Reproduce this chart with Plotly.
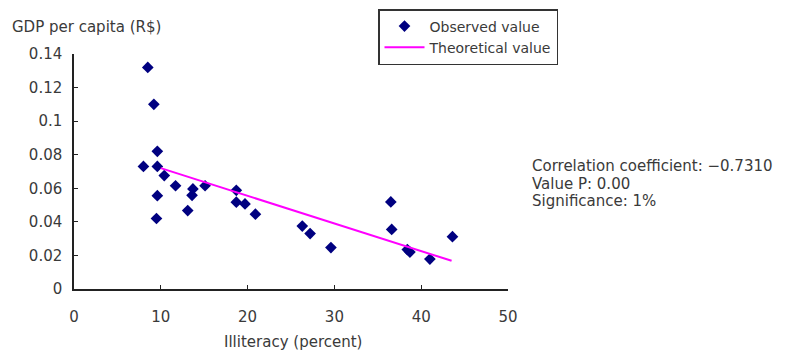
import plotly.graph_objects as go

# Observed values: illiteracy (%) vs GDP per capita (R$)
illiteracy = [8.5, 9.2, 9.6, 8.0, 9.6, 10.4, 11.7, 13.7, 13.6, 15.1, 9.6, 13.1, 9.5,
              18.7, 18.7, 19.7, 20.9, 26.3, 27.2, 29.6, 36.5, 36.6, 38.4, 38.7, 41.0, 43.6]
gdp = [0.132, 0.110, 0.082, 0.073, 0.073, 0.0676, 0.0615, 0.0596, 0.0558, 0.0615, 0.0556, 0.0467, 0.042,
       0.0588, 0.0517, 0.0507, 0.0446, 0.0375, 0.033, 0.0247, 0.0519, 0.0355, 0.0235, 0.022, 0.0178, 0.0312]

# Theoretical (fitted) line endpoints
theo_x = [10.0, 43.5]
theo_y = [0.0720, 0.0168]

x_ticks = [0, 10, 20, 30, 40, 50]
y_ticks = [0, 0.02, 0.04, 0.06, 0.08, 0.1, 0.12, 0.14]
y_ticktext = ["0", "0.02", "0.04", "0.06", "0.08", "0.1", "0.12", "0.14"]

stats_lines = ["Correlation coefficient: \u22120.7310", "Value P: 0.00", "Significance: 1%"]

font_family = "DejaVu Sans, Verdana, sans-serif"
FS = 15
TXT = "#3a3a3a"

# page has an 8px body margin, figure sized to the visible area
W, H = 779, 345
L, R, T, B = 66, 279, 46, 64
PW, PH = W - L - R, H - T - B

fig = go.Figure()
fig.add_trace(go.Scatter(
    x=illiteracy, y=gdp, mode="markers", name="Observed value",
    marker=dict(symbol="diamond", size=9, color="#000080", line=dict(width=0)),
))
fig.add_trace(go.Scatter(
    x=theo_x, y=theo_y, mode="lines", name="Theoretical value",
    line=dict(color="#FF00FF", width=2),
))

fig.update_layout(
    width=W, height=H,
    margin=dict(l=L, r=R, t=T, b=B, autoexpand=False),
    plot_bgcolor="white", paper_bgcolor="white",
    font=dict(family=font_family, size=FS, color=TXT),
    showlegend=True,
    legend=dict(
        x=(370 - L) / PW, y=1 + (T - 1) / PH, xanchor="left", yanchor="top",
        bordercolor="#333333", borderwidth=1.5, bgcolor="white",
        font=dict(size=14, color=TXT),
        tracegroupgap=0, itemwidth=40, entrywidth=199,
    ),
    xaxis=dict(
        range=[0, 50], tickvals=x_ticks, ticks="inside", ticklen=4,
        showline=True, linecolor="#222222", linewidth=1.5, tickcolor="#222222",
        showgrid=False, zeroline=False, automargin=False, ticklabelstandoff=13,
    ),
    yaxis=dict(
        range=[0, 0.14], tickvals=y_ticks, ticktext=y_ticktext, ticks="inside", ticklen=4,
        showline=True, linecolor="#222222", linewidth=1.5, tickcolor="#222222",
        showgrid=False, zeroline=False, ticklabelstandoff=7, automargin=False,
    ),
)

# y-axis title (top-left)
fig.add_annotation(
    text="GDP per capita (R$)", xref="paper", yref="paper",
    x=-(L - 2) / PW, y=1 + (T - 19) / PH,
    xanchor="left", yanchor="middle", showarrow=False,
    font=dict(size=FS, color=TXT),
)

# x-axis title
fig.add_annotation(
    text="Illiteracy (percent)", xref="paper", yref="paper",
    x=(285 - L) / PW, y=-(334 - (H - B)) / PH,
    xanchor="center", yanchor="middle", showarrow=False,
    font=dict(size=FS, color=TXT),
)

# statistics block
for i, line in enumerate(stats_lines):
    fig.add_annotation(
        text=line, xref="paper", yref="paper",
        x=(522 - L) / PW, y=1 - (158 + i * 17.5 - T) / PH,
        xanchor="left", yanchor="middle", align="left", showarrow=False,
        font=dict(size=FS, color=TXT),
    )

fig.write_html("out.html")
